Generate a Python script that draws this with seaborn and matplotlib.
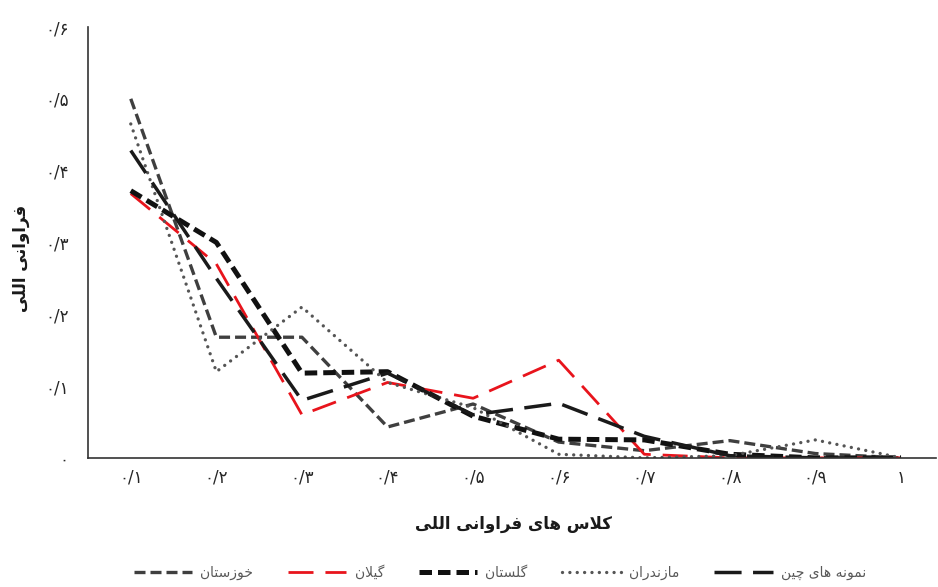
import pandas as pd
import matplotlib
matplotlib.use("Agg")
import matplotlib.pyplot as plt
import seaborn as sns

# ------------------------------------------
# data
# ------------------------------------------
x_labels = ["۰/۱", "۰/۲", "۰/۳", "۰/۴", "۰/۵", "۰/۶", "۰/۷", "۰/۸", "۰/۹", "۱"]
y_ticks = [0.0, 0.1, 0.2, 0.3, 0.4, 0.5, 0.6]
y_labels = ["۰", "۰/۱", "۰/۲", "۰/۳", "۰/۴", "۰/۵", "۰/۶"]

khuzestan = [0.50, 0.168, 0.168, 0.043, 0.075, 0.022, 0.010, 0.024, 0.006, 0.0]
gilan = [0.368, 0.270, 0.060, 0.105, 0.083, 0.136, 0.005, 0.0, 0.0, 0.0]
golestan = [0.372, 0.300, 0.118, 0.120, 0.058, 0.026, 0.025, 0.005, 0.0, 0.0]
mazandaran = [0.465, 0.120, 0.210, 0.105, 0.070, 0.005, 0.0, 0.003, 0.025, 0.0]
china = [0.428, 0.250, 0.080, 0.118, 0.060, 0.076, 0.030, 0.003, 0.0, 0.0]

series_names = ["خوزستان", "گیلان", "گلستان", "مازندران", "نمونه های چین"]
series_values = [khuzestan, gilan, golestan, mazandaran, china]

x_title = "کلاس های فراوانی اللی"
y_title = "فراوانی اللی"

# ------------------------------------------
# matplotlib has no arabic shaping, so shape by hand
# forms: isolated, final, initial, medial
# ------------------------------------------
FORMS = {
    'ا': ('\uFE8D', '\uFE8E'),
    'د': ('\uFEA9', '\uFEAA'),
    'ر': ('\uFEAD', '\uFEAE'),
    'ز': ('\uFEAF', '\uFEB0'),
    'و': ('\uFEED', '\uFEEE'),
    'LA': ('\uFEFB', '\uFEFC'),
    'ت': ('\uFE95', '\uFE96', '\uFE97', '\uFE98'),
    'خ': ('\uFEA5', '\uFEA6', '\uFEA7', '\uFEA8'),
    'س': ('\uFEB1', '\uFEB2', '\uFEB3', '\uFEB4'),
    'ف': ('\uFED1', '\uFED2', '\uFED3', '\uFED4'),
    'ل': ('\uFEDD', '\uFEDE', '\uFEDF', '\uFEE0'),
    'م': ('\uFEE1', '\uFEE2', '\uFEE3', '\uFEE4'),
    'ن': ('\uFEE5', '\uFEE6', '\uFEE7', '\uFEE8'),
    'ه': ('\uFEE9', '\uFEEA', '\uFEEB', '\uFEEC'),
    'ی': ('\uFBFC', '\uFBFD', '\uFBFE', '\uFBFF'),
    'ي': ('\uFBFC', '\uFBFD', '\uFBFE', '\uFBFF'),
    'ک': ('\uFB8E', '\uFB8F', '\uFB90', '\uFB91'),
    'ك': ('\uFB8E', '\uFB8F', '\uFB90', '\uFB91'),
    'گ': ('\uFB92', '\uFB93', '\uFB94', '\uFB95'),
    'چ': ('\uFB7A', '\uFB7B', '\uFB7C', '\uFB7D'),
}


def shape(text):
    tokens = []
    i = 0
    while i < len(text):
        if text[i] == 'ل' and i + 1 < len(text) and text[i + 1] == 'ا':
            tokens.append('LA')
            i += 2
        else:
            tokens.append(text[i])
            i += 1
    out = []
    for k, t in enumerate(tokens):
        if t not in FORMS:
            out.append(t)
            continue
        f = FORMS[t]
        prev = tokens[k - 1] if k > 0 else None
        nxt = tokens[k + 1] if k + 1 < len(tokens) else None
        jp = prev in FORMS and len(FORMS[prev]) == 4
        jn = len(f) == 4 and nxt in FORMS
        if jp and jn:
            out.append(f[3])
        elif jp:
            out.append(f[1])
        elif jn:
            out.append(f[2])
        else:
            out.append(f[0])
    return ''.join(reversed(out))


# ------------------------------------------
# plot
# ------------------------------------------
sns.set_style("white")
plt.rcParams['font.family'] = ['DejaVu Sans']

styles = [
    dict(color='#3f3f3f', lw=2.4, ls=(0, (3.3, 1.5))),
    dict(color='#e8141c', lw=2.0, ls=(0, (9, 4.3))),
    dict(color='#111111', lw=3.6, ls=(0, (2.5, 1.2))),
    dict(color='#555555', lw=2.4, ls=(0, (0.01, 2.2)), dash_capstyle='round'),
    dict(color='#1a1a1a', lw=2.5, ls=(0, (7.8, 3.3))),
]

df = pd.DataFrame({n: v for n, v in zip(series_names, series_values)})
df['pos'] = range(len(x_labels))

fig, ax = plt.subplots(figsize=(9.38, 5.87), dpi=100)
fig.subplots_adjust(left=0.0938, right=0.998, bottom=0.22, top=0.954)

for name, st in zip(series_names, styles):
    st = dict(st)
    sns.lineplot(x=df['pos'], y=df[name], ax=ax, label=shape(name),
                 color=st.pop('color'), linewidth=st.pop('lw'),
                 linestyle=st.pop('ls'), **st)

ax.set_xlim(-0.5, 9.41)
ax.set_ylim(0, 0.6)
ax.set_xticks(df['pos'])
ax.set_xticklabels(x_labels, fontsize=12, color='#262626')
ax.set_yticks(y_ticks)
ax.set_yticklabels(y_labels, fontsize=12, color='#262626')
ax.tick_params(axis='x', length=0, pad=8)
ax.tick_params(axis='y', length=0, pad=14)

for s in ['top', 'right']:
    ax.spines[s].set_visible(False)
for s in ['left', 'bottom']:
    ax.spines[s].set_color('#333333')
    ax.spines[s].set_linewidth(1.2)

ax.set_xlabel(shape(x_title), fontsize=12, fontweight='bold', color='#1a1a1a')
ax.set_ylabel(shape(y_title), fontsize=12, fontweight='bold', color='#1a1a1a')
ax.xaxis.set_label_coords(0.502, -0.132)
ax.yaxis.set_label_coords(-0.068, 0.464)

ax.get_legend().remove()
handles, labels = ax.get_legend_handles_labels()
leg = fig.legend(handles, labels, loc='center', bbox_to_anchor=(0.533, 0.024),
                 ncol=5, frameon=False, fontsize=10, handlelength=4.2,
                 columnspacing=2.5, handletextpad=0.6)
for t in leg.get_texts():
    t.set_color('#595959')

plt.savefig('out.png', dpi=100)
